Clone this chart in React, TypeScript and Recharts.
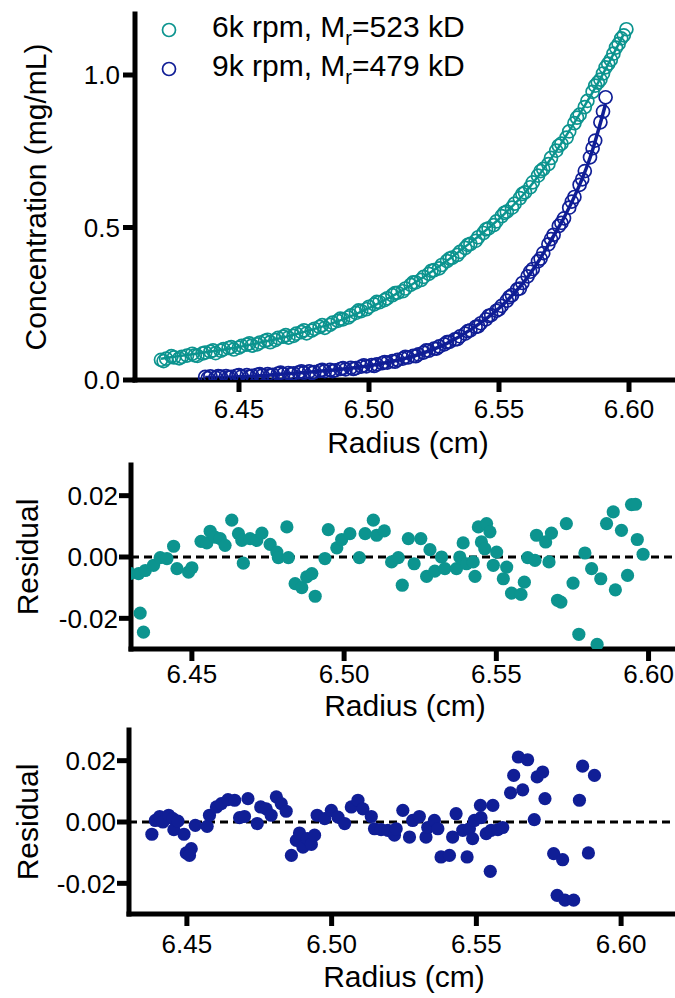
import {
  ComposedChart,
  Scatter,
  Line,
  XAxis,
  YAxis,
  ReferenceLine,
  Legend,
} from 'recharts';

const FONT = '"Liberation Sans", Arial, Helvetica, sans-serif';
const TEAL = '#0c948f';
const NAVY = '#101e96';

// radius (cm), concentration (mg/mL)
const rpm6kPoints: [number, number][] = [
  [6.420, 0.066], [6.422, 0.070], [6.425, 0.074], [6.427, 0.071], [6.430, 0.080],
  [6.432, 0.086], [6.434, 0.079], [6.437, 0.090], [6.439, 0.093], [6.441, 0.088],
  [6.444, 0.101], [6.446, 0.105], [6.448, 0.100], [6.451, 0.112], [6.453, 0.116],
  [6.455, 0.113], [6.458, 0.123], [6.460, 0.128], [6.462, 0.124], [6.465, 0.138],
  [6.467, 0.142], [6.469, 0.139], [6.472, 0.152], [6.474, 0.157], [6.476, 0.153],
  [6.479, 0.168], [6.481, 0.174], [6.483, 0.171], [6.486, 0.188], [6.488, 0.194],
  [6.490, 0.199], [6.493, 0.212], [6.495, 0.220], [6.497, 0.226], [6.500, 0.240],
  [6.502, 0.248], [6.504, 0.255], [6.507, 0.268], [6.509, 0.278], [6.511, 0.286],
  [6.514, 0.300], [6.516, 0.312], [6.518, 0.320], [6.521, 0.338], [6.523, 0.348],
  [6.525, 0.360], [6.528, 0.377], [6.530, 0.390], [6.532, 0.401], [6.535, 0.420],
  [6.537, 0.433], [6.539, 0.446], [6.542, 0.468], [6.544, 0.482], [6.546, 0.497],
  [6.549, 0.520], [6.551, 0.537], [6.553, 0.552], [6.556, 0.578], [6.558, 0.596],
  [6.560, 0.615], [6.563, 0.648], [6.565, 0.670], [6.567, 0.692], [6.570, 0.728],
  [6.572, 0.752], [6.574, 0.775], [6.577, 0.815], [6.579, 0.842], [6.581, 0.870],
  [6.584, 0.915], [6.586, 0.945], [6.588, 0.975], [6.590, 1.005], [6.592, 1.037],
  [6.594, 1.070], [6.596, 1.102], [6.597, 1.120], [6.599, 1.150],
  [6.421, 0.062], [6.424, 0.078], [6.428, 0.076], [6.433, 0.081], [6.436, 0.087],
  [6.440, 0.097], [6.443, 0.096], [6.447, 0.108], [6.450, 0.106], [6.454, 0.120],
  [6.457, 0.117], [6.461, 0.132], [6.464, 0.131], [6.468, 0.147], [6.471, 0.145],
  [6.475, 0.163], [6.478, 0.162], [6.482, 0.180], [6.485, 0.181], [6.489, 0.201],
  [6.492, 0.205], [6.496, 0.228], [6.499, 0.232], [6.503, 0.256], [6.506, 0.262],
  [6.510, 0.285], [6.513, 0.291], [6.517, 0.320], [6.520, 0.328], [6.524, 0.358],
  [6.527, 0.366], [6.531, 0.398], [6.534, 0.410], [6.538, 0.443], [6.541, 0.456],
  [6.545, 0.494], [6.548, 0.508], [6.552, 0.548], [6.555, 0.565], [6.559, 0.610],
  [6.562, 0.632], [6.566, 0.685], [6.569, 0.708], [6.573, 0.768], [6.576, 0.795],
  [6.580, 0.860], [6.583, 0.895], [6.587, 0.965], [6.589, 0.985], [6.591, 1.025],
  [6.593, 1.050], [6.595, 1.090], [6.598, 1.130],
];

const rpm9kPoints: [number, number][] = [
  [6.437, 0.010], [6.439, 0.012], [6.441, 0.008], [6.443, 0.011], [6.445, 0.013],
  [6.447, 0.010], [6.449, 0.014], [6.451, 0.012], [6.453, 0.016], [6.455, 0.014],
  [6.457, 0.017], [6.459, 0.015], [6.461, 0.019], [6.463, 0.017], [6.465, 0.021],
  [6.467, 0.019], [6.469, 0.023], [6.471, 0.022], [6.473, 0.025], [6.475, 0.024],
  [6.477, 0.028], [6.479, 0.026], [6.481, 0.030], [6.483, 0.029], [6.485, 0.033],
  [6.487, 0.032], [6.489, 0.036], [6.491, 0.035], [6.493, 0.040], [6.495, 0.039],
  [6.497, 0.044], [6.499, 0.045], [6.501, 0.049], [6.503, 0.051], [6.505, 0.055],
  [6.507, 0.057], [6.509, 0.062], [6.511, 0.066], [6.513, 0.070], [6.515, 0.074],
  [6.517, 0.079], [6.519, 0.084], [6.521, 0.090], [6.523, 0.096], [6.525, 0.103],
  [6.527, 0.110], [6.529, 0.117], [6.531, 0.125], [6.533, 0.133], [6.535, 0.143],
  [6.537, 0.152], [6.539, 0.163], [6.541, 0.174], [6.543, 0.186], [6.545, 0.199],
  [6.547, 0.213], [6.549, 0.227], [6.551, 0.243], [6.553, 0.260], [6.555, 0.278],
  [6.557, 0.297], [6.559, 0.318], [6.561, 0.340], [6.563, 0.364], [6.565, 0.389],
  [6.567, 0.416], [6.569, 0.445], [6.571, 0.476], [6.573, 0.505], [6.575, 0.530],
  [6.577, 0.565], [6.579, 0.600], [6.581, 0.640], [6.583, 0.685], [6.585, 0.730],
  [6.587, 0.785], [6.589, 0.845], [6.591, 0.927],
  [6.438, 0.006], [6.442, 0.013], [6.446, 0.009], [6.450, 0.016], [6.454, 0.011],
  [6.458, 0.019], [6.462, 0.015], [6.466, 0.024], [6.470, 0.019], [6.474, 0.028],
  [6.478, 0.023], [6.482, 0.033], [6.486, 0.029], [6.490, 0.039], [6.494, 0.036],
  [6.498, 0.048], [6.502, 0.046], [6.506, 0.059], [6.510, 0.060], [6.514, 0.076],
  [6.518, 0.078], [6.522, 0.097], [6.526, 0.103], [6.530, 0.124], [6.534, 0.134],
  [6.538, 0.160], [6.542, 0.176], [6.546, 0.210], [6.550, 0.232], [6.554, 0.272],
  [6.558, 0.300], [6.562, 0.355], [6.566, 0.398], [6.570, 0.462], [6.574, 0.515],
  [6.578, 0.585], [6.582, 0.658], [6.586, 0.760], [6.590, 0.880],
];

const rpm6kFit: [number, number][] = [
  [6.420, 0.070], [6.430, 0.082], [6.440, 0.094], [6.450, 0.108], [6.460, 0.126],
  [6.470, 0.146], [6.480, 0.170], [6.490, 0.199], [6.500, 0.236], [6.510, 0.280],
  [6.520, 0.332], [6.530, 0.391], [6.540, 0.457], [6.550, 0.528], [6.560, 0.614],
  [6.570, 0.726], [6.580, 0.858], [6.590, 1.004], [6.598, 1.135],
];

const rpm9kFit: [number, number][] = [
  [6.437, 0.008], [6.450, 0.011], [6.460, 0.015], [6.470, 0.021], [6.480, 0.028],
  [6.490, 0.036], [6.500, 0.047], [6.510, 0.063], [6.520, 0.086], [6.530, 0.120],
  [6.540, 0.170], [6.550, 0.235], [6.555, 0.277], [6.560, 0.326], [6.565, 0.387],
  [6.570, 0.458], [6.575, 0.532], [6.580, 0.620], [6.585, 0.728], [6.591, 0.905],
];

// radius (cm), residual
const residual6k: [number, number][] = [
  [6.4297, -0.0054], [6.4325, -0.0054], [6.4347, -0.0044], [6.4330, -0.0183], [6.4341, -0.0245],
  [6.4374, -0.0027], [6.4396, -0.0002], [6.4418, -0.0005], [6.4440, 0.0035], [6.4451, -0.0038],
  [6.4489, -0.0049], [6.4500, -0.0035], [6.4530, 0.0051], [6.4549, 0.0046], [6.4560, 0.0084],
  [6.4576, 0.0065], [6.4593, 0.0060], [6.4609, 0.0038], [6.4631, 0.0120], [6.4653, 0.0076],
  [6.4664, 0.0054], [6.4669, -0.0020], [6.4691, 0.0060], [6.4713, 0.0054], [6.4730, 0.0078],
  [6.4757, 0.0041], [6.4779, 0.0016], [6.4784, -0.0002], [6.4812, 0.0098], [6.4817, -0.0002],
  [6.4839, -0.0087], [6.4861, -0.0100], [6.4877, -0.0065], [6.4894, -0.0054], [6.4905, -0.0128],
  [6.4937, -0.0005], [6.4948, 0.0089], [6.4976, 0.0030], [6.4992, 0.0057], [6.5019, 0.0076],
  [6.5050, -0.0002], [6.5069, 0.0076], [6.5096, 0.0120], [6.5107, 0.0071], [6.5132, 0.0085],
  [6.5156, -0.0016], [6.5178, -0.0002], [6.5191, -0.0092], [6.5211, 0.0060], [6.5230, -0.0022],
  [6.5252, 0.0060], [6.5271, -0.0063], [6.5282, 0.0024], [6.5298, -0.0046], [6.5320, 0.0000],
  [6.5331, -0.0038], [6.5369, -0.0038], [6.5380, 0.0000], [6.5391, 0.0046], [6.5402, -0.0022],
  [6.5424, -0.0016], [6.5430, -0.0063], [6.5441, 0.0098], [6.5468, 0.0109], [6.5479, 0.0082],
  [6.5451, 0.0049], [6.5462, 0.0027], [6.5490, -0.0027], [6.5501, 0.0016], [6.5523, -0.0071],
  [6.5534, -0.0033], [6.5550, -0.0118], [6.5581, -0.0122], [6.5592, -0.0082], [6.5603, -0.0002],
  [6.5627, -0.0011], [6.5632, 0.0071], [6.5662, 0.0049], [6.5673, -0.0016], [6.5681, 0.0078],
  [6.5701, -0.0141], [6.5712, -0.0147], [6.5730, 0.0109], [6.5752, -0.0085], [6.5771, -0.0252],
  [6.5791, 0.0013], [6.5813, -0.0038], [6.5831, -0.0285], [6.5843, -0.0071], [6.5862, 0.0109],
  [6.5884, 0.0147], [6.5891, -0.0107], [6.5911, 0.0087], [6.5931, -0.0060], [6.5944, 0.0171],
  [6.5957, 0.0172], [6.5963, 0.0057], [6.5982, 0.0009],
];

const residual9k: [number, number][] = [
  [6.4379, -0.0040], [6.4391, 0.0005], [6.4406, 0.0018], [6.4417, 0.0000], [6.4437, 0.0022],
  [6.4452, 0.0011], [6.4455, -0.0025], [6.4469, 0.0003], [6.4490, -0.0040], [6.4498, -0.0101],
  [6.4515, -0.0087], [6.4509, -0.0109], [6.4529, -0.0011], [6.4570, -0.0014], [6.4578, 0.0022],
  [6.4602, 0.0049], [6.4619, 0.0060], [6.4642, 0.0073], [6.4665, 0.0071], [6.4682, 0.0014],
  [6.4699, 0.0018], [6.4711, 0.0076], [6.4743, -0.0005], [6.4755, 0.0049], [6.4774, 0.0043],
  [6.4791, 0.0022], [6.4809, 0.0082], [6.4826, 0.0060], [6.4843, 0.0035], [6.4861, -0.0109],
  [6.4878, -0.0060], [6.4889, -0.0036], [6.4901, -0.0082], [6.4916, -0.0054], [6.4930, -0.0073],
  [6.4941, -0.0043], [6.4950, 0.0022], [6.4976, 0.0011], [6.4999, 0.0038], [6.5022, 0.0016],
  [6.5045, -0.0005], [6.5068, 0.0049], [6.5091, 0.0071], [6.5108, 0.0043], [6.5137, 0.0018],
  [6.5148, -0.0022], [6.5171, -0.0025], [6.5194, -0.0027], [6.5217, -0.0043], [6.5223, -0.0022],
  [6.5246, 0.0038], [6.5269, -0.0049], [6.5280, 0.0005], [6.5303, 0.0018], [6.5326, -0.0049],
  [6.5332, -0.0018], [6.5355, 0.0005], [6.5367, -0.0022], [6.5378, -0.0114], [6.5407, -0.0109],
  [6.5418, -0.0049], [6.5430, 0.0027], [6.5453, -0.0027], [6.5468, -0.0114], [6.5476, -0.0022],
  [6.5487, -0.0054], [6.5493, 0.0005], [6.5514, 0.0054], [6.5516, 0.0014], [6.5534, -0.0038],
  [6.5548, -0.0161], [6.5551, -0.0027], [6.5557, 0.0054], [6.5574, -0.0025], [6.5591, -0.0018],
  [6.5618, 0.0095], [6.5629, 0.0152], [6.5645, 0.0212], [6.5660, 0.0105], [6.5677, 0.0203],
  [6.5700, 0.0008], [6.5710, 0.0147], [6.5729, 0.0163], [6.5737, 0.0076], [6.5767, -0.0103],
  [6.5779, -0.0239], [6.5798, -0.0123], [6.5806, -0.0255], [6.5836, -0.0255], [6.5856, 0.0071],
  [6.5867, 0.0182], [6.5887, -0.0101], [6.5908, 0.0152],
];

const radiusTicks = [6.45, 6.5, 6.55, 6.6];
const concentrationTicks = [0, 0.5, 1.0];
const residualTicks = [-0.02, 0, 0.02];

const legendItems = [
  { color: TEAL, pre: '6k rpm, M', sub: 'r', post: '=523 kD' },
  { color: NAVY, pre: '9k rpm, M', sub: 'r', post: '=479 kD' },
];

const toRows = (pts: [number, number][], key: string) =>
  pts.map(([r, v]) => ({ r, [key]: v }));

const axisLine = { stroke: '#000', strokeWidth: 5, strokeLinecap: 'square' as const };
const tickLine = { stroke: '#000', strokeWidth: 5 };
const tickText = { fill: '#000', fontSize: 26, fontFamily: FONT };
const titleStyle = { fill: '#000', fontSize: 30, fontFamily: FONT };

const openCircle = (color: string) => (p: any) =>
  <circle cx={p.cx} cy={p.cy} r={6.5} fill="none" stroke={color} strokeWidth={1.7} />;
const filledDot = (color: string) => (p: any) =>
  <circle cx={p.cx} cy={p.cy} r={6.6} fill={color} />;

function LegendBox() {
  return (
    <div style={{ fontFamily: FONT, fontSize: 30, color: '#000' }}>
      {legendItems.map((item) => (
        <div key={item.pre + item.post} style={{ display: 'flex', alignItems: 'center', height: 39 }}>
          <svg width={18} height={18}>
            <circle cx={9} cy={9} r={6.5} fill="none" stroke={item.color} strokeWidth={1.7} />
          </svg>
          <span style={{ marginLeft: 34, position: 'relative', top: -3, lineHeight: 1, whiteSpace: 'nowrap' }}>
            {item.pre}
            <span style={{ fontSize: 20, position: 'relative', top: 8 }}>{item.sub}</span>
            {item.post}
          </span>
        </div>
      ))}
    </div>
  );
}

function ConcentrationPlot() {
  return (
    <ComposedChart width={700} height={470} margin={{ top: 14, right: 19, bottom: 0, left: 0 }}>
      <XAxis
        type="number"
        dataKey="r"
        domain={[6.41, 6.62]}
        allowDataOverflow
        ticks={radiusTicks}
        tickFormatter={(v: number) => v.toFixed(2)}
        axisLine={axisLine}
        tickLine={tickLine}
        tickSize={12}
        tickMargin={8}
        tick={tickText}
        height={90}
        label={{ value: 'Radius (cm)', position: 'insideBottom', offset: 17, ...titleStyle }}
      />
      <YAxis
        type="number"
        dataKey="c"
        domain={[0, 1.2]}
        allowDataOverflow
        ticks={concentrationTicks}
        tickFormatter={(v: number) => v.toFixed(1)}
        axisLine={axisLine}
        tickLine={tickLine}
        tickSize={12}
        tickMargin={3}
        tick={tickText}
        width={135}
        label={{
          value: 'Concentration (mg/mL)',
          angle: -90,
          position: 'insideLeft',
          offset: 35,
          style: { textAnchor: 'middle' },
          ...titleStyle,
        }}
      />
      <Legend
        layout="vertical"
        align="center"
        verticalAlign="middle"
        content={() => <LegendBox />}
        wrapperStyle={{ left: 160, top: 10, width: 'auto', height: 'auto' }}
      />
      <Scatter data={toRows(rpm6kPoints, 'c')} shape={openCircle(TEAL)} isAnimationActive={false} />
      <Scatter data={toRows(rpm9kPoints, 'c')} shape={openCircle(NAVY)} isAnimationActive={false} />
      <Line data={toRows(rpm6kFit, 'c')} dataKey="c" type="monotone" dot={false} stroke={TEAL} strokeWidth={2.5} isAnimationActive={false} />
      <Line data={toRows(rpm9kFit, 'c')} dataKey="c" type="monotone" dot={false} stroke={NAVY} strokeWidth={3.5} isAnimationActive={false} />
    </ComposedChart>
  );
}

function ResidualPlot(props: {
  points: [number, number][];
  color: string;
  yAxisWidth: number;
  plotWidth: number;
  height: number;
  domain: [number, number];
  tickMargin: number;
  titleOffset: number;
}) {
  const { points, color, yAxisWidth, plotWidth, height, domain, tickMargin, titleOffset } = props;
  return (
    <ComposedChart
      width={700}
      height={height}
      margin={{ top: 5, right: 700 - yAxisWidth - plotWidth, bottom: 0, left: 0 }}
    >
      <XAxis
        type="number"
        dataKey="r"
        domain={domain}
        allowDataOverflow
        ticks={radiusTicks}
        tickFormatter={(v: number) => v.toFixed(2)}
        axisLine={axisLine}
        tickLine={tickLine}
        tickSize={12}
        tickMargin={tickMargin}
        tick={tickText}
        height={height - 5 - 184}
        label={{ value: 'Radius (cm)', position: 'insideBottom', offset: titleOffset, ...titleStyle }}
      />
      <YAxis
        type="number"
        dataKey="res"
        domain={[-0.03, 0.03]}
        allowDataOverflow
        ticks={residualTicks}
        tickFormatter={(v: number) => v.toFixed(2)}
        axisLine={axisLine}
        tickLine={tickLine}
        tickSize={12}
        tickMargin={1}
        tick={tickText}
        width={yAxisWidth}
        label={{
          value: 'Residual',
          angle: -90,
          position: 'insideLeft',
          offset: 27,
          style: { textAnchor: 'middle' },
          ...titleStyle,
        }}
      />
      <ReferenceLine y={0} stroke="#000" strokeWidth={3} strokeDasharray="8 5" />
      <Scatter data={toRows(points, 'res')} shape={filledDot(color)} isAnimationActive={false} />
    </ComposedChart>
  );
}

export default function App() {
  return (
    <div
      style={{
        position: 'absolute',
        left: 0,
        top: 0,
        width: 675,
        height: 998,
        overflow: 'hidden',
        background: '#fff',
      }}
    >
      <div style={{ position: 'absolute', left: 0, top: 0 }}>
        <ConcentrationPlot />
      </div>
      <div style={{ position: 'absolute', left: 0, top: 460 }}>
        <ResidualPlot
          points={residual6k}
          color={TEAL}
          yAxisWidth={131}
          plotWidth={548}
          height={270}
          domain={[6.43, 6.61]}
          tickMargin={4}
          titleOffset={14}
        />
      </div>
      <div style={{ position: 'absolute', left: 0, top: 725 }}>
        <ResidualPlot
          points={residual9k}
          color={NAVY}
          yAxisWidth={129}
          plotWidth={550}
          height={273}
          domain={[6.43, 6.62]}
          tickMargin={9}
          titleOffset={11}
        />
      </div>
    </div>
  );
}
